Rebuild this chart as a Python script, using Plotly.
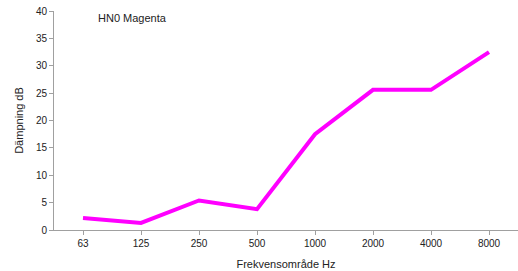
import plotly.graph_objects as go

categories = ["63", "125", "250", "500", "1000", "2000", "4000", "8000"]
values = [2.2, 1.3, 5.4, 3.8, 17.5, 25.6, 25.6, 32.5]
series_name = "HN0 Magenta"

fig = go.Figure()
fig.add_trace(go.Scatter(
    x=categories, y=values, mode="lines", name=series_name,
    line=dict(color="#FF00FF", width=4), showlegend=False,
))

font_family = "Liberation Sans, Arial, sans-serif"
fig.update_layout(
    width=518, height=271,
    margin=dict(l=54, r=0, t=11, b=41, autoexpand=False),
    paper_bgcolor="white", plot_bgcolor="white",
    font=dict(family=font_family, size=10, color="#222222"),
    xaxis=dict(
        type="category", range=[-0.5, 7.5], automargin=False,
        showline=True, linecolor="#A0A0A0", linewidth=1,
        ticks="outside", ticklen=4, tickcolor="#A0A0A0",
        showgrid=False, zeroline=False,
        title=dict(text="Frekvensområde Hz", font=dict(size=11), standoff=12),
    ),
    yaxis=dict(
        range=[0, 40], dtick=5, automargin=False,
        showline=True, linecolor="#A0A0A0", linewidth=1,
        ticks="outside", ticklen=4, tickcolor="#A0A0A0",
        showgrid=False, zeroline=False,
        title=dict(text="Dämpning dB", font=dict(size=11), standoff=10),
    ),
    annotations=[dict(
        text=series_name, xref="paper", yref="paper",
        x=(96 - 54) / 464, y=1 - (18 - 11) / 219, xanchor="left", yanchor="middle",
        showarrow=False, font=dict(size=11, color="#222222"),
    )],
)

fig.write_html("out.html", config={"displayModeBar": False},
               post_script="document.body.style.margin='0';document.body.style.overflow='hidden';")
